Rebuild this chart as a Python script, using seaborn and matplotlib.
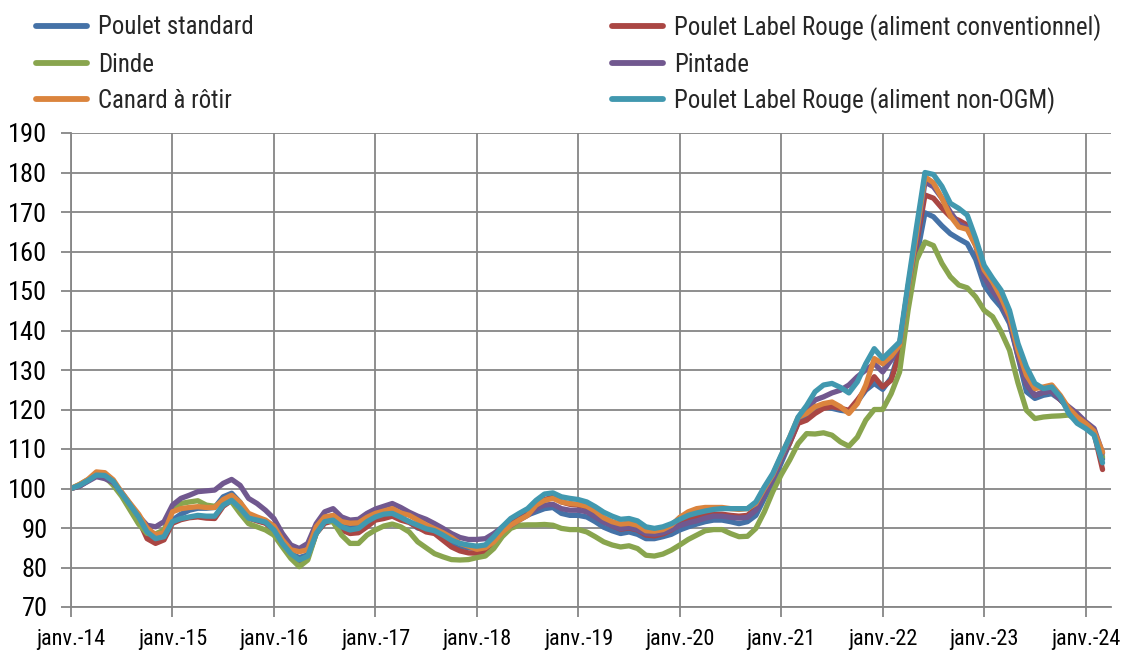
import numpy as np
import pandas as pd
import matplotlib
matplotlib.use("Agg")
import matplotlib.pyplot as plt
from matplotlib import font_manager
from matplotlib.lines import Line2D
import seaborn as sns

# ---------------- data (monthly index, base 100 = janv. 2014) ----------------
months = list(range(123))  # janv.-14 ... mars-24
tick_positions = list(range(0, 121, 12))
tick_labels = ["janv.-14", "janv.-15", "janv.-16", "janv.-17", "janv.-18", "janv.-19",
               "janv.-20", "janv.-21", "janv.-22", "janv.-23", "janv.-24"]

poulet_standard = [
    100, 100.6, 102, 103.5, 103.2, 101.5, 98.5, 95.5, 92.2, 88.2, 87, 87.6,
    92, 93.5, 94.5, 95, 95, 95.2, 97.9, 98.8, 96.5, 93, 92.2, 91.5,
    89.5, 86.2, 83.5, 82.5, 83.2, 88.8, 91.8, 92.4, 90.5, 90, 90.3, 91.8,
    92.8, 93.6, 93.8, 92.5, 91.6, 90, 89.5, 89, 87.8, 86.2, 85.3, 85,
    84.8, 85.3, 87.5, 90, 91, 92.3, 93.3, 94.1, 94.9, 95.2, 93.7, 93.2,
    93.2, 92.8, 91.6, 90.2, 89.3, 88.6, 89, 88.4, 87.3, 87.3, 87.8, 88.4,
    89.5, 90.3, 91, 91.6, 92, 92, 91.6, 91.1, 91.6, 93.2, 97.5, 101.5,
    106.5, 111.5, 116.8, 118.1, 119.8, 120.7, 120.3, 119.8, 119.5, 122, 124.9, 126.6,
    125.1, 128, 135, 148.5, 158.6, 169.8, 168.8, 166.5, 164.5, 163.2, 162, 158,
    151.5, 148.4, 145.9, 141.8, 133.4, 124.5, 122.8, 123.6, 124, 122.5, 120.2, 118.5,
    116, 114.5, 107.5]

label_rouge_conv = [
    100, 100.6, 102, 103.5, 103.2, 101.5, 98.5, 95.5, 92, 87.3, 86.1, 87,
    91.2, 92.1, 92.6, 92.8, 92.5, 92.4, 95.5, 97, 95, 92.5, 91.8, 91.2,
    89.3, 86, 83.2, 81.5, 82.5, 88.6, 91.2, 91.8, 89.5, 88.6, 88.8, 90.3,
    92, 92.4, 93, 92, 91.4, 90.2, 89, 88.6, 86.9, 85.2, 84.2, 83.7,
    83.6, 84, 86.5, 89.5, 91, 92.5, 93.8, 96, 97.2, 97.8, 96.6, 96,
    95.8, 95.2, 93.6, 91.8, 90.6, 89.7, 90, 89.5, 88.2, 88, 88.5, 89.5,
    91, 92, 92.8, 93.2, 93.5, 93.5, 93.2, 93, 93.2, 95, 99, 102.8,
    107.5, 111.5, 116.5, 117.3, 119, 120.3, 120.7, 120.3, 119.8, 122.4, 125.3, 128.3,
    125.7, 127.4, 134.2, 150, 162, 174.3, 173.5, 171, 168.8, 167.9, 166.7, 162,
    155, 152.5, 149.5, 143.5, 134, 126.5, 123.6, 124.4, 124.7, 122.5, 120.3, 118.5,
    115.6, 114, 104.8]

dinde = [
    100, 101, 102.2, 103.3, 103, 100.8, 98, 94.5, 91, 88.6, 88.5, 89.5,
    94.5, 96.2, 96.6, 96.9, 95.8, 95.5, 96.6, 96.6, 93.7, 91.1, 90.3, 89.5,
    88.2, 85.2, 82.3, 80.2, 81.9, 88.6, 92, 91.5, 88.2, 86.1, 86.1, 88.2,
    89.5, 90.5, 91, 90.3, 89, 86.5, 85, 83.5, 82.7, 82, 81.9, 82,
    82.5, 82.9, 84.8, 87.8, 89.9, 90.7, 90.8, 90.8, 90.9, 90.7, 89.9, 89.6,
    89.6, 89, 87.8, 86.5, 85.7, 85.2, 85.5, 84.8, 83.1, 82.9, 83.4, 84.4,
    85.7, 87.1, 88.2, 89.3, 89.6, 89.6, 88.6, 87.8, 87.9, 89.9, 94.1, 99.2,
    103.5, 107.2, 111.4, 113.9, 113.8, 114.1, 113.5, 111.8, 110.7, 113, 117.3, 120,
    120, 124, 129.5, 145.1, 157.8, 162.4, 161.5, 157, 153.6, 151.5, 150.8, 148.5,
    145.1, 143.5, 139.7, 135, 126.7, 119.8, 117.7, 118.1, 118.3, 118.4, 118.6, 117.3,
    116, 113.9, 108]

pintade = [
    100, 100.6, 101.8, 103, 102.5, 101.5, 99, 96, 93, 90.7, 90.3, 91.6,
    95.8, 97.5, 98.3, 99.2, 99.4, 99.6, 101.3, 102.3, 100.8, 97.5, 96.2, 94.5,
    92.4, 88.6, 85.7, 84.8, 86.1, 91.1, 94.1, 94.9, 92.8, 92, 92.2, 93.7,
    94.8, 95.5, 96.2, 95.2, 94, 93, 92.2, 91.1, 89.9, 88.6, 87.6, 87.1,
    87.1, 87.3, 88.6, 90.2, 90.6, 92, 93.2, 94.9, 95.8, 96, 94.9, 94.5,
    94.5, 94.1, 92.8, 91.5, 90.6, 89.8, 90.2, 89.6, 88.6, 88.4, 88.8, 89.6,
    90.6, 91.3, 91.8, 92.5, 93, 93, 92.7, 92.5, 92.7, 94.5, 98.4, 102.3,
    107.3, 112.3, 117.7, 119.8, 122.4, 123.2, 124.2, 124.9, 126.2, 128.3, 130, 131.6,
    129.5, 132.5, 136.5, 151, 163, 177.6, 176.4, 173.5, 170, 167, 166, 161.5,
    153.5, 150, 147, 142.5, 133.5, 126.5, 123.6, 124.4, 124.7, 122.5, 120.7, 119,
    116.9, 115.2, 109]

canard = [
    100, 101, 102.3, 104.2, 104, 102.2, 99, 96.2, 93.5, 90, 88.3, 88.8,
    94.1, 94.9, 95.2, 95.4, 95.2, 95.2, 97.2, 98.3, 96.5, 93.7, 92.8, 92,
    90.5, 87, 84.5, 84, 84.5, 90.3, 92.8, 93.2, 91.6, 91.2, 91.3, 92.7,
    93.7, 94.3, 94.9, 93.8, 93.2, 92, 90.8, 89.8, 88.8, 87.6, 86.1, 85.4,
    84.6, 85, 86.5, 89, 90.7, 92, 93.2, 95.8, 97, 97.5, 96.6, 96.2,
    96, 95.5, 94.3, 92.6, 91.6, 91, 91.2, 90.7, 89.3, 89.2, 89.6, 90.7,
    92.7, 94.1, 94.9, 95.2, 95.2, 95.2, 94.9, 94.7, 94.9, 96.2, 100, 103.5,
    108.3, 113, 118, 119, 120.7, 121.5, 121.9, 120.7, 119, 121.5, 126.2, 132.9,
    131.6, 133.5, 136.3, 151, 164.5, 178.9, 177.4, 173.5, 169, 166.2, 165.6, 161.5,
    155.3, 152.3, 148.4, 143.5, 135, 128.7, 125.3, 125.7, 126.2, 123.6, 120.3, 118.1,
    116.5, 114.5, 109.2]

label_rouge_non_ogm = [
    100, 100.8, 102, 103.4, 103.3, 101.8, 98.7, 95.8, 92.8, 89, 87.3, 87.8,
    91.6, 92.4, 92.8, 93.2, 93, 93, 95.8, 97, 95, 92.5, 92, 91.5,
    89.5, 86.1, 83.5, 81.9, 82.9, 88.6, 91.6, 92, 90.3, 89.5, 89.9, 91.6,
    92.8, 93.5, 93.7, 92.7, 91.6, 90.7, 89.8, 89.3, 88.2, 86.9, 86.1, 85.7,
    85.4, 85.7, 87.8, 90.3, 92.4, 93.7, 94.9, 97, 98.6, 98.9, 97.9, 97.5,
    97.2, 96.6, 95.4, 94, 93, 92.2, 92.4, 91.8, 90.3, 89.9, 90.3, 91.1,
    92.2, 93.2, 93.8, 94.3, 94.7, 94.9, 94.9, 94.9, 94.9, 96.6, 100.4, 103.8,
    108.5, 113, 118.1, 121, 124.5, 126.2, 126.6, 125.6, 124.2, 127, 131.6, 135.4,
    132.9, 135, 137.1, 151.9, 166.2, 180, 179.5, 176.5, 172.2, 170.9, 169.2, 163.3,
    156.5, 153.2, 150.2, 145.1, 136.7, 130.8, 126.6, 125.3, 125.7, 123.2, 119, 116.5,
    115.2, 113.5, 106.5]

series_names = ["Poulet standard", "Poulet Label Rouge (aliment conventionnel)",
                "Dinde", "Pintade", "Canard à rôtir",
                "Poulet Label Rouge (aliment non-OGM)"]
series_values = [poulet_standard, label_rouge_conv, dinde, pintade, canard,
                 label_rouge_non_ogm]
colors = ["#4572A7", "#AA4643", "#89A54E", "#71588F", "#DB843D", "#4198AF"]

frames = []
for name, vals in zip(series_names, series_values):
    frames.append(pd.DataFrame({"mois": months, "indice": vals, "serie": name}))
df = pd.concat(frames, ignore_index=True)

# ---------------- fonts: prefer a condensed face if one is installed ----------------
installed = {f.name for f in font_manager.fontManager.ttflist}
condensed = None
for cand in ["Liberation Sans Narrow", "Arial Narrow", "Roboto Condensed",
             "DejaVu Sans Condensed", "Open Sans Condensed"]:
    if cand in installed:
        condensed = cand
        break
base_family = condensed if condensed else "Liberation Sans"
family = [base_family, "Liberation Sans", "DejaVu Sans"]

if condensed:
    leg_size, xt_size, yt_size = 17.9, 16, 19
else:
    leg_size, xt_size, yt_size = 15.8, 15.2, 17

# ---------------- style ----------------
sns.set_theme(style="white")
plt.rcParams["font.family"] = family
plt.rcParams["lines.solid_capstyle"] = "round"
plt.rcParams["lines.solid_joinstyle"] = "round"

fig = plt.figure(figsize=(11.32, 6.52), dpi=100)
ax = fig.add_axes([71 / 1132, 1 - 607 / 652, (1111 - 71) / 1132, (607 - 133) / 652])

grid_c = "#868686"
ax.set_axisbelow(True)

sns.lineplot(data=df, x="mois", y="indice", hue="serie", hue_order=series_names,
             palette=colors, linewidth=3.8, sort=False, legend=False, ax=ax)

ax.set_xlim(0, 123)
ax.set_ylim(70, 190)
ax.set_yticks(np.arange(70, 191, 10))
ax.set_xticks(tick_positions)
ax.set_xticklabels(tick_labels)
ax.set_xlabel("")
ax.set_ylabel("")

ax.grid(True, color=grid_c, linewidth=1.3)
for s in ["top", "right"]:
    ax.spines[s].set_visible(False)
for s in ["left", "bottom"]:
    ax.spines[s].set_color(grid_c)
    ax.spines[s].set_linewidth(1.3)
ax.tick_params(axis="both", colors=grid_c, length=7, width=1.3, direction="out",
               labelcolor="black")
ax.tick_params(axis="y", pad=10, labelsize=yt_size)
ax.tick_params(axis="x", pad=9, labelsize=xt_size)
ax.yaxis.set_ticks_position("left")
ax.xaxis.set_ticks_position("bottom")

# ---------------- legend: one entry per slot, laid out in 2 columns x 3 rows ----------------
fs_px = leg_size * 100 / 72
row_centers = [27.5, 64.5, 100.5]   # pixel rows of the legend entries
col_starts = [36, 612]              # pixel x of the handle starts
order = [(0, 0, 0), (1, 0, 1), (2, 1, 0), (3, 1, 1), (4, 2, 0), (5, 2, 1)]  # (series, row, col)
for idx, r, c in order:
    h = Line2D([0], [0], color=colors[idx], linewidth=4.2, solid_capstyle="round")
    fig.legend([h], [series_names[idx]], frameon=False, loc="center left",
               bbox_to_anchor=(col_starts[c] / 1132, 1 - row_centers[r] / 652),
               borderaxespad=0, borderpad=0,
               handlelength=51 / fs_px, handletextpad=11 / fs_px,
               prop={"family": family, "size": leg_size})

fig.savefig("out.png", dpi=100)
